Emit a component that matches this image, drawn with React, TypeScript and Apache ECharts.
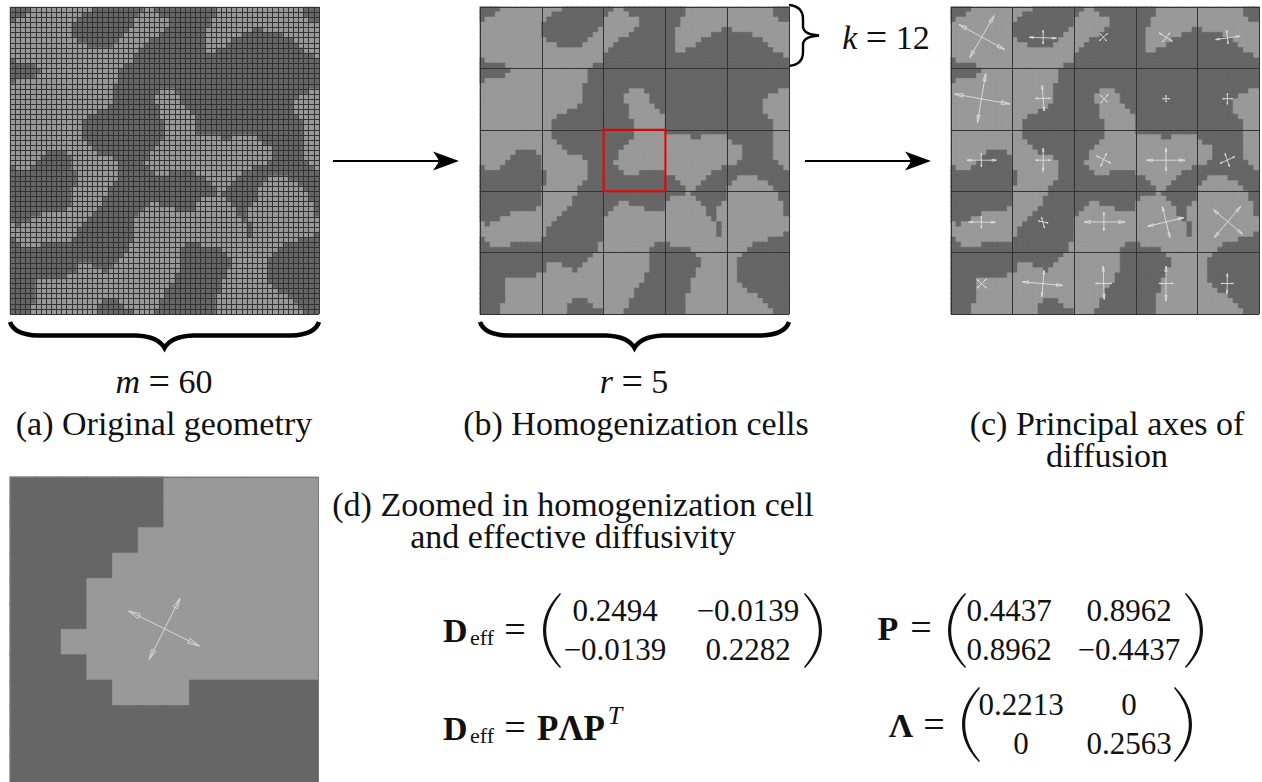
import React, { useEffect, useRef } from "react";
import * as echarts from "echarts";

// Light-phase runs per row of the 60x60 geometry: [startCol, endCol)
const lightRuns: number[][][] = [
  [[4,16],[26,28],[40,57]],
  [[3,14],[25,29],[40,57]],
  [[1,13],[24,31],[39,58]],
  [[0,12],[24,31],[39,60]],
  [[0,12],[23,30],[38,47],[49,60]],
  [[0,12],[22,29],[38,45],[53,60]],
  [[0,13],[21,27],[38,43],[55,60]],
  [[0,15],[20,26],[38,42],[56,60]],
  [[0,25],[38,40],[57,60]],
  [[0,24],[59,60]],
  [[1,24]],
  [[5,22]],
  [[6,21]],
  [[5,21]],
  [[1,21]],
  [[0,20]],
  [[0,20],[29,32],[58,60]],
  [[0,20],[28,33],[56,60]],
  [[0,20],[28,33],[55,60]],
  [[0,19],[29,34],[55,60]],
  [[0,17],[29,35],[55,60]],
  [[0,15],[29,36],[56,60]],
  [[0,14],[30,36],[57,60]],
  [[0,14],[30,36],[57,60]],
  [[0,14],[30,36],[57,60]],
  [[0,14],[30,41],[43,48],[57,60]],
  [[0,15],[29,49],[57,60]],
  [[0,16],[28,51],[57,60]],
  [[0,7],[11,17],[27,51],[57,60]],
  [[0,6],[12,20],[27,51],[57,60]],
  [[0,5],[12,21],[26,50],[58,60]],
  [[1,4],[12,21],[27,47],[59,60]],
  [[13,21],[28,31],[36,45]],
  [[13,21],[38,44],[50,54]],
  [[13,20],[39,43],[49,56]],
  [[12,19],[40,42],[48,57]],
  [[12,19],[40,41],[48,58]],
  [[12,18],[37,42],[48,58]],
  [[12,18],[27,29],[36,43],[47,59]],
  [[11,17],[26,32],[36,44],[46,59]],
  [[6,16],[25,44],[46,59]],
  [[4,15],[24,45],[46,60]],
  [[0,1],[2,14],[24,46],[47,60]],
  [[0,13],[24,46],[47,60]],
  [[0,13],[24,46],[47,59]],
  [[1,12],[24,56]],
  [[2,6],[23,34],[37,53]],
  [[23,33],[41,52]],
  [[22,33],[42,51]],
  [[21,33],[43,50]],
  [[13,16],[20,33],[43,50]],
  [[13,18],[19,33],[42,50]],
  [[11,32],[42,50]],
  [[5,32],[41,50]],
  [[5,31],[41,51]],
  [[5,30],[41,52]],
  [[5,30],[40,54]],
  [[5,18],[21,29],[40,55]],
  [[4,17],[22,29],[40,56]],
  [[4,17],[24,28],[40,57]],
];

// Principal axes per homogenization cell, in cell units: [x1, y1, x2, y2]
const axesC: number[][] = [
  [1.56,3.44,10.47,8.31],[8.39,1.69,3.64,9.94],
  [15.21,5.91,20.55,6.10],[17.95,4.55,17.95,7.21],
  [29.0,5.19,30.3,6.62],[30.49,5.19,28.87,6.62],
  [40.51,5.06,43.17,6.69],[42.65,5.06,41.22,6.82],
  [51.56,6.36,56.31,5.71],[53.71,4.55,53.97,7.21],
  [0.72,17.01,11.44,18.96],[6.76,12.99,5.14,22.6],
  [16.45,17.86,19.44,17.86],[17.75,15.32,18.14,20.32],
  [29.13,17.27,30.43,18.57],[30.62,17.08,29.13,18.83],
  [41.22,17.92,42.65,17.92],[41.87,17.27,41.87,18.57],
  [52.93,17.92,54.88,17.92],[53.84,16.88,53.84,19.03],
  [3.12,29.94,8.84,29.94],[5.92,28.57,5.92,31.23],
  [16.51,29.94,19.44,29.94],[17.95,27.6,17.95,32.14],
  [28.35,29.09,31.14,30.52],[30.3,28.57,29.13,31.17],
  [38.1,29.94,45.58,29.94],[41.87,27.6,41.87,32.08],
  [52.41,30.58,55.33,29.22],[53.38,28.64,54.23,31.17],
  [3.45,42.01,8.65,42.08],[5.92,40.84,5.92,43.25],
  [17.04,41.82,18.92,42.21],[17.62,41.04,18.2,43.18],
  [25.94,42.01,33.88,42.01],[29.78,40.06,29.78,43.77],
  [38.3,42.86,45.38,41.17],[41.16,38.96,42.65,45.06],
  [51.11,39.61,56.83,44.42],[56.44,38.96,51.3,45.06],
  [5.07,53.25,6.89,54.94],[6.89,53.18,5.07,54.94],
  [13.91,53.7,21.72,54.42],[18.14,51.43,17.69,56.62],
  [28.15,54.03,31.34,54.03],[29.65,50.65,29.84,57.14],
  [40.51,54.03,43.3,54.03],[41.87,50.65,41.87,57.4],
  [52.6,54.03,55.0,54.03],[53.84,52.08,53.77,55.97],
];
const axesD: number[][] = [
  [4.62,5.27,7.38,6.65],[6.62,4.78,5.42,7.18],
];
const redCell: number[][] = [[24,24,36,36]];
const matD = ["0.2494","\u22120.0139","\u22120.0139","0.2282"];
const matP = ["0.4437","0.8962","0.8962","\u22120.4437"];
const matL = ["0.2213","0","0","0.2563"];

const LIGHT = "#999999", DARK = "#666666";
const SERIF = '"Liberation Serif", serif';

const mask: number[][] = lightRuns.map((runs) => {
  const row = new Array(60).fill(0);
  runs.forEach(([a, b]) => { for (let i = a; i < b; i++) row[i] = 1; });
  return row;
});
const fullCells: number[][] = [];
mask.forEach((row, r) => row.forEach((v, c) => fullCells.push([c, r, v])));
const zoomCells: number[][] = [];
for (let r = 24; r < 36; r++) for (let c = 24; c < 36; c++) zoomCells.push([c - 24, r - 24, mask[r][c]]);
const range = (n: number) => Array.from({ length: n }, (_, i) => String(i));

echarts.graphic.registerShape("parenL", echarts.graphic.extendPath(
  "M17,0 C5,12 0,25 0,37.5 C0,50 5,63 17,75 L18,74 C8,62 3.2,50 3.2,37.5 C3.2,25 8,13 18,1 Z", {}));
echarts.graphic.registerShape("braceH", echarts.graphic.extendPath(
  "M0,0 C3,9 12,13 28,13.5 L126,13.5 C140,14 150,18 154.5,26 C159,18 169,14 183,13.5 L281,13.5 C297,13 306,9 309,0", {}));
echarts.graphic.registerShape("braceV", echarts.graphic.extendPath(
  "M0,0 C10,1 14,6 14,14 L14,21 C14,27 19,29.5 30,30.5 C19,31.5 14,34 14,40 L14,47 C14,55 10,60 0,61", {}));
echarts.graphic.registerShape("bigHead", echarts.graphic.extendPath(
  "M0,-9.5 L26,0 L0,9.5 C4,4 5.5,2 5.5,0 C5.5,-2 4,-4 0,-9.5 Z", {}));

const txt = (s: string, x: number, y: number, size = 34, extra: any = {}, align = "center") => ({
  type: "text", x, y, silent: true,
  style: { text: s, fontFamily: SERIF, fontSize: size, fill: "#111", textAlign: align, textVerticalAlign: "middle", ...extra },
});
const bold = { fontWeight: "bold" };
const ital = { fontStyle: "italic" };
const two = { lineHeight: 32 };
const rich = {
  i: { fontStyle: "italic", fontFamily: SERIF, fontSize: 34, fill: "#111" },
  e: { fontFamily: SERIF, fontSize: 38, fill: "#111" },
};

function matrix(vals: string[], cols: number[], rows: number[], pL: number, pR: number, pY: number) {
  return [
    txt(vals[0], cols[0], rows[0], 31), txt(vals[1], cols[1], rows[0], 31),
    txt(vals[2], cols[0], rows[1], 31), txt(vals[3], cols[1], rows[1], 31),
    { type: "parenL", x: pL, y: pY, silent: true, style: { fill: "#111" } },
    { type: "parenL", x: pR, y: pY, scaleX: -1, silent: true, style: { fill: "#111" } },
  ];
}

function bigArrow(x1: number, x2: number, y: number) {
  return [
    { type: "line", silent: true, shape: { x1, y1: y, x2: x2 - 12, y2: y }, style: { stroke: "#000", lineWidth: 2 } },
    { type: "bigHead", x: x2 - 26, y, silent: true, style: { fill: "#000" } },
  ];
}

const annotations: any[] = [
  { type: "braceH", x: 10, y: 322, silent: true, style: { fill: "none", stroke: "#000", lineWidth: 4.5 } },
  { type: "braceH", x: 480, y: 322, silent: true, style: { fill: "none", stroke: "#000", lineWidth: 4.5 } },
  { type: "braceV", x: 789, y: 5, silent: true, style: { fill: "none", stroke: "#000", lineWidth: 2.4 } },
  ...bigArrow(333, 459, 161),
  ...bigArrow(805, 931, 161),
  { type: "text", x: 164, y: 381, silent: true, style: { text: "{i|m} {e|=} 60", fontFamily: SERIF, fontSize: 34, fill: "#111", textAlign: "center", textVerticalAlign: "middle", rich } },
  { type: "text", x: 634, y: 381, silent: true, style: { text: "{i|r} {e|=} 5", fontFamily: SERIF, fontSize: 34, fill: "#111", textAlign: "center", textVerticalAlign: "middle", rich } },
  { type: "text", x: 886, y: 37, silent: true, style: { text: "{i|k} {e|=} 12", fontFamily: SERIF, fontSize: 34, fill: "#111", textAlign: "center", textVerticalAlign: "middle", rich } },
  txt("(a) Original geometry", 164, 423),
  txt("(b) Homogenization cells", 636, 423),
  txt("(c) Principal axes of\ndiffusion", 1107, 439, 34, two),
  txt("(d) Zoomed in homogenization cell\nand effective diffusivity", 573, 520.5, 34, two),
  txt("D", 443, 630, 34, bold, "left"), txt("eff", 470, 637, 22, {}, "left"), txt("=", 515, 629, 38),
  ...matrix(matD, [615, 748], [610, 649], 543, 822, 593),
  txt("D", 443, 728, 34, bold, "left"), txt("eff", 470, 735, 22, {}, "left"), txt("=", 515, 727, 38),
  txt("P\u039BP", 537, 728, 35, bold, "left"), txt("T", 615, 715, 26, ital, "center"),
  txt("P", 888, 628, 34, bold), txt("=", 921, 627, 38),
  ...matrix(matP, [1009, 1129], [610, 649], 948, 1203, 593),
  txt("\u039B", 901, 725, 34, bold), txt("=", 934, 724, 38),
  ...matrix(matL, [1021, 1129], [704, 743], 962, 1192, 687),
];

const panels = [
  { left: 10, top: 7, width: 309, height: 307, n: 60, step: 1, data: fullCells, seal: false, line: { color: "#333333", width: 1 } },
  { left: 480, top: 7, width: 309, height: 307, n: 60, step: 12, data: fullCells, seal: true, line: { color: "#333333", width: 1 } },
  { left: 951, top: 7, width: 308, height: 307, n: 60, step: 12, data: fullCells, seal: true, line: { color: "#333333", width: 1 } },
  { left: 10, top: 477, width: 308, height: 308, n: 12, step: 12, data: zoomCells, seal: true, line: { color: "#777777", width: 1 } },
];

function arrowItem(params: any, api: any) {
  const a = api.coord([api.value(0), api.value(1)]);
  const b = api.coord([api.value(2), api.value(3)]);
  const dx = b[0] - a[0], dy = b[1] - a[1];
  const len = Math.hypot(dx, dy) || 1;
  const ux = dx / len, uy = dy / len;
  const hl = len * 0.15, hw = len * 0.035;
  const head = (p: number[], sx: number) => {
    const bx = p[0] + sx * ux * hl, by = p[1] + sx * uy * hl;
    return {
      type: "polygon",
      shape: { points: [[p[0], p[1]], [bx - uy * hw, by + ux * hw], [bx + uy * hw, by - ux * hw]] },
      style: { fill: "none", stroke: "#e0e0e0", lineWidth: 0.8 },
    };
  };
  return {
    type: "group",
    children: [
      { type: "line", shape: { x1: a[0], y1: a[1], x2: b[0], y2: b[1] }, style: { stroke: "#e8e8e8", lineWidth: 0.8 } },
      head(a, 1),
      head(b, -1),
    ],
  };
}

function redItem(params: any, api: any) {
  const a = api.coord([api.value(0), api.value(1)]);
  const b = api.coord([api.value(2), api.value(3)]);
  return {
    type: "rect",
    shape: { x: a[0], y: a[1], width: b[0] - a[0], height: b[1] - a[1] },
    style: { fill: "none", stroke: "#ee0000", lineWidth: 2 },
  };
}

export default function App() {
  const ref = useRef<HTMLDivElement>(null);
  useEffect(() => {
    const chart = echarts.init(ref.current!, null, { renderer: "svg" });
    const grids: any[] = [], xAxes: any[] = [], yAxes: any[] = [], series: any[] = [];
    panels.forEach((p, i) => {
      const rect = { left: p.left, top: p.top, width: p.width, height: p.height };
      grids.push(rect);
      xAxes.push({ type: "category", gridIndex: i, data: range(p.n), show: false });
      yAxes.push({ type: "category", gridIndex: i, data: range(p.n), show: false, inverse: true });
      const data = p.seal
        ? p.data.map((d) => ({ value: d, itemStyle: { borderColor: d[2] ? LIGHT : DARK, borderWidth: 0.6 } }))
        : p.data;
      series.push({
        type: "heatmap", xAxisIndex: i, yAxisIndex: i, data, silent: true,
        progressive: 0, emphasis: { disabled: true },
      });
    });
    panels.forEach((p, i) => {
      const g = panels.length + i;
      grids.push({ left: p.left, top: p.top, width: p.width, height: p.height });
      const ax = {
        type: "value", gridIndex: g, min: 0, max: p.n, interval: p.step, z: 10,
        axisLine: { show: false }, axisTick: { show: false }, axisLabel: { show: false },
        splitLine: { show: true, lineStyle: { color: p.line.color, width: p.line.width } },
      };
      xAxes.push({ ...ax });
      yAxes.push({ ...ax, inverse: true });
    });
    series.push({ type: "custom", xAxisIndex: 5, yAxisIndex: 5, data: redCell, renderItem: redItem, silent: true, z: 20, clip: false });
    series.push({ type: "custom", xAxisIndex: 6, yAxisIndex: 6, data: axesC, renderItem: arrowItem, silent: true, z: 20, clip: false });
    series.push({ type: "custom", xAxisIndex: 7, yAxisIndex: 7, data: axesD, renderItem: arrowItem, silent: true, z: 20, clip: false });
    chart.setOption({
      animation: false,
      backgroundColor: "#ffffff",
      grid: grids,
      xAxis: xAxes,
      yAxis: yAxes,
      visualMap: {
        type: "piecewise", show: false, seriesIndex: [0, 1, 2, 3], dimension: 2,
        pieces: [{ min: -0.5, max: 0.5, color: DARK }, { min: 0.5, max: 1.5, color: LIGHT }],
      },
      series,
      graphic: { elements: annotations },
    });
    return () => chart.dispose();
  }, []);
  return <div ref={ref} style={{ position: "absolute", left: 0, top: 0, width: 1262, height: 782, overflow: "hidden" }} />;
}
